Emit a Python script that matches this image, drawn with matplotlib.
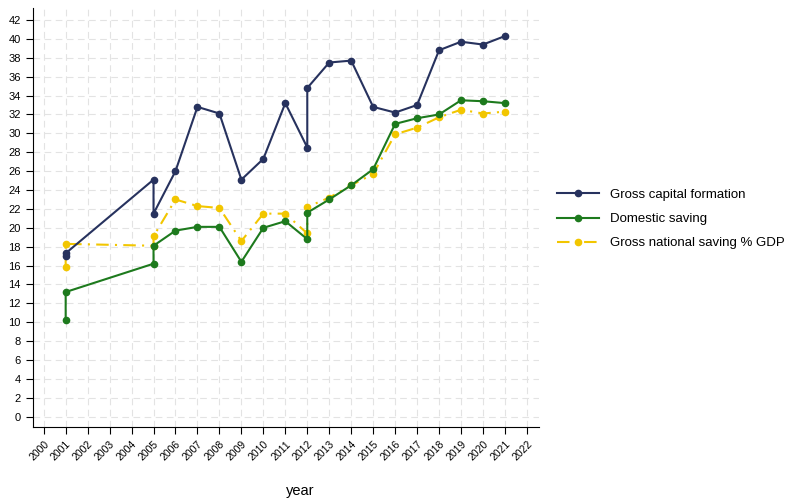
import matplotlib.pyplot as plt

# repeated years are kept: the series have two observations in 2001, 2005 and 2012
gcf_years = [2001, 2001, 2005, 2005, 2006, 2007, 2008, 2009, 2010, 2011, 2012, 2012,
             2013, 2014, 2015, 2016, 2017, 2018, 2019, 2020, 2021]
gcf_vals = [17.0, 17.3, 25.1, 21.5, 26.0, 32.8, 32.1, 25.1, 27.3, 33.2, 28.5, 34.8,
            37.5, 37.7, 32.8, 32.2, 33.0, 38.8, 39.7, 39.4, 40.3]

dom_years = [2001, 2001, 2005, 2005, 2006, 2007, 2008, 2009, 2010, 2011, 2012, 2012,
             2013, 2014, 2015, 2016, 2017, 2018, 2019, 2020, 2021]
dom_vals = [10.2, 13.2, 16.2, 18.1, 19.7, 20.1, 20.1, 16.4, 20.0, 20.7, 18.8, 21.6,
            23.0, 24.5, 26.2, 31.0, 31.6, 32.0, 33.5, 33.4, 33.2]

gns_years = [2001, 2001, 2005, 2005, 2006, 2007, 2008, 2009, 2010, 2011, 2012, 2012,
             2013, 2014, 2015, 2016, 2017, 2018, 2019, 2020, 2021]
gns_vals = [15.8, 18.3, 18.1, 19.1, 23.0, 22.3, 22.1, 18.6, 21.5, 21.5, 19.4, 22.2,
            23.2, 24.5, 25.7, 29.9, 30.6, 31.7, 32.5, 32.1, 32.3]

year_ticks = list(range(2000, 2023))
value_ticks = list(range(0, 43, 2))

plt.rcParams['font.family'] = ['Liberation Sans', 'DejaVu Sans']

fig = plt.figure(figsize=(7.95, 5), dpi=100)
ax = fig.add_axes([32.5 / 795, 72.7 / 500, (539 - 32.5) / 795, (427.3 - 8) / 500])

ax.plot(gcf_years, gcf_vals, color='#27325e', lw=1.5, marker='o', ms=4.5,
        label='Gross capital formation', zorder=3)
ax.plot(dom_years, dom_vals, color='#1d7a1d', lw=1.5, marker='o', ms=4.5,
        label='Domestic saving', zorder=3)
ax.plot(gns_years, gns_vals, color='#f2c600', lw=1.5, marker='o', ms=4.5,
        dashes=(6, 3, 1, 3), label='Gross national saving % GDP', zorder=2)

ax.set_xlim(1999.49, 2022.55)
ax.set_ylim(-1.12, 43.27)
ax.set_xticks(year_ticks)
ax.set_xticklabels([str(y) for y in year_ticks], rotation=45, ha='right',
                   rotation_mode='anchor', fontsize=7.5)
ax.set_yticks(value_ticks)
ax.tick_params(axis='y', labelsize=8, length=5)
ax.tick_params(axis='x', length=5)
ax.grid(True, color='#e3e3e3', lw=0.8, ls=(0, (6, 4)))
ax.set_axisbelow(True)
for side in ['top', 'right']:
    ax.spines[side].set_visible(False)
ax.set_xlabel('year', fontsize=10.5)
ax.xaxis.set_label_coords(0.528, -0.135)

fig.legend(loc='center left', bbox_to_anchor=(545 / 795, 1 - 219 / 500),
           frameon=False, fontsize=9.5, handlelength=3.2, labelspacing=0.9)

fig.savefig('out.png', dpi=100)
